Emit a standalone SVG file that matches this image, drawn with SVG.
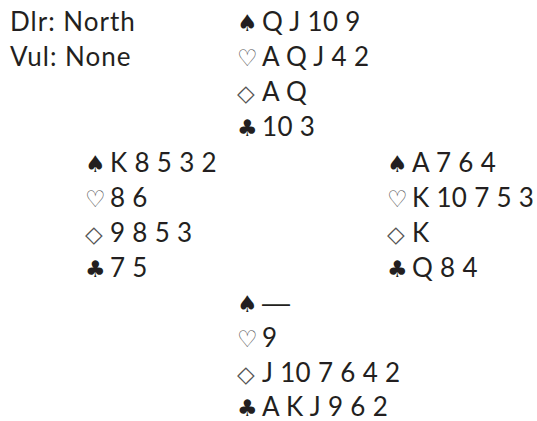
<svg xmlns="http://www.w3.org/2000/svg" width="537" height="421" viewBox="0 0 537 421">
<style>
text{font-family:Lato,"Open Sans","Liberation Sans",sans-serif;font-size:26px;fill:#231f20;letter-spacing:0.3px}
.i{letter-spacing:1px}
.s{font-family:"DejaVu Sans",sans-serif;font-size:23px;letter-spacing:0}
.o{fill:#555}
.d{font-family:"Liberation Sans",sans-serif;font-size:28px}
</style>
<rect width="537" height="421" fill="#fff"/>
<g id="info">
<text class="i" x="10" y="31">Dlr: North</text>
<text class="i" x="10" y="66">Vul: None</text>
</g>
<g id="north">
<text class="s" x="237" y="31">♠</text><text x="262" y="31">Q J 10 9</text>
<text class="s o" x="237" y="66">♡</text><text x="262" y="66">A Q J 4 2</text>
<text class="s o" x="237" y="101">◇</text><text x="262" y="101">A Q</text>
<text class="s" x="237" y="136">♣</text><text x="262" y="136">10 3</text>
</g>
<g id="west">
<text class="s" x="85" y="172">♠</text><text x="110" y="172">K 8 5 3 2</text>
<text class="s o" x="85" y="207">♡</text><text x="110" y="207">8 6</text>
<text class="s o" x="85" y="242">◇</text><text x="110" y="242">9 8 5 3</text>
<text class="s" x="85" y="277">♣</text><text x="110" y="277">7 5</text>
</g>
<g id="east">
<text class="s" x="387" y="172">♠</text><text x="412" y="172">A 7 6 4</text>
<text class="s o" x="387" y="207">♡</text><text x="412" y="207">K 10 7 5 3</text>
<text class="s o" x="387" y="242">◇</text><text x="412" y="242">K</text>
<text class="s" x="387" y="277">♣</text><text x="412" y="277">Q 8 4</text>
</g>
<g id="south">
<text class="s" x="237" y="312">♠</text><text class="d" x="262" y="312">—</text>
<text class="s o" x="237" y="347">♡</text><text x="262" y="347">9</text>
<text class="s o" x="237" y="382">◇</text><text x="262" y="382">J 10 7 6 4 2</text>
<text class="s" x="237" y="416">♣</text><text x="262" y="416">A K J 9 6 2</text>
</g>
</svg>
